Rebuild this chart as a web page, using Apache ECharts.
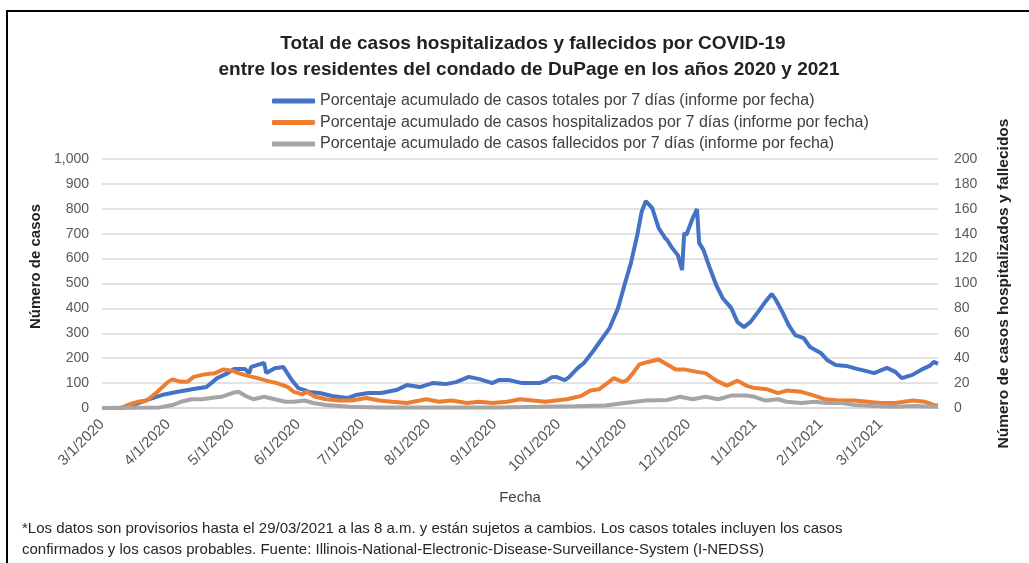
<!DOCTYPE html>
<html>
<head>
<meta charset="utf-8">
<script src="https://cdn.jsdelivr.net/npm/echarts@6/dist/echarts.min.js"></script>
<style>
html,body{margin:0;padding:0;background:#fff;}
#c{width:1029px;height:563px;}
</style>
</head>
<body>
<div id="c"></div>
<script>
// ---- Data ----
const seriesNames = [
  'Porcentaje acumulado de casos totales por 7 días (informe por fecha)',
  'Porcentaje acumulado de casos hospitalizados por 7 días (informe por fecha)',
  'Porcentaje acumulado de casos fallecidos por 7 días (informe por fecha)'
];
const monthTicks = ['2020-03-01','2020-04-01','2020-05-01','2020-06-01','2020-07-01','2020-08-01',
  '2020-09-01','2020-10-01','2020-11-01','2020-12-01','2021-01-01','2021-02-01','2021-03-01'];

const totalDates = ['2020-03-01','2020-03-09','2020-03-14','2020-03-18','2020-03-23','2020-03-29','2020-04-05','2020-04-13','2020-04-19','2020-04-24','2020-04-29','2020-05-02','2020-05-07','2020-05-09','2020-05-10','2020-05-16','2020-05-17','2020-05-21','2020-05-25','2020-05-29','2020-06-01','2020-06-04','2020-06-06','2020-06-11','2020-06-17','2020-06-24','2020-06-28','2020-07-04','2020-07-10','2020-07-17','2020-07-22','2020-07-28','2020-08-03','2020-08-09','2020-08-14','2020-08-20','2020-08-25','2020-08-31','2020-09-03','2020-09-08','2020-09-14','2020-09-19','2020-09-22','2020-09-25','2020-09-28','2020-09-30','2020-10-04','2020-10-06','2020-10-10','2020-10-13','2020-10-17','2020-10-21','2020-10-25','2020-10-29','2020-11-01','2020-11-04','2020-11-07','2020-11-09','2020-11-11','2020-11-14','2020-11-17','2020-11-20','2020-11-21','2020-11-23','2020-11-26','2020-11-28','2020-11-29','2020-11-30','2020-12-03','2020-12-05','2020-12-06','2020-12-08','2020-12-11','2020-12-14','2020-12-17','2020-12-21','2020-12-24','2020-12-27','2020-12-30','2021-01-03','2021-01-06','2021-01-09','2021-01-11','2021-01-14','2021-01-17','2021-01-20','2021-01-24','2021-01-27','2021-02-01','2021-02-04','2021-02-08','2021-02-13','2021-02-18','2021-02-22','2021-02-26','2021-03-04','2021-03-08','2021-03-11','2021-03-16','2021-03-20','2021-03-24','2021-03-26','2021-03-28'];
const totalValues = [0,0,5,20,35,52,64,76,84,120,140,157,157,140,165,181,141,160,165,112,80,72,64,60,48,40,52,60,60,72,92,84,100,96,104,125,116,100,112,112,100,100,100,108,124,125,112,124,160,181,225,273,321,402,494,582,695,787,831,803,723,683,675,647,614,554,703,695,763,799,663,635,562,494,442,402,345,325,345,390,426,458,434,386,333,293,281,245,221,193,173,169,157,149,140,161,145,120,133,153,169,185,177];

const hospDates = ['2020-03-01','2020-03-10','2020-03-13','2020-03-18','2020-03-22','2020-03-27','2020-04-01','2020-04-03','2020-04-07','2020-04-10','2020-04-13','2020-04-18','2020-04-23','2020-04-27','2020-05-01','2020-05-04','2020-05-08','2020-05-13','2020-05-17','2020-05-22','2020-05-27','2020-05-30','2020-06-03','2020-06-05','2020-06-09','2020-06-14','2020-06-20','2020-06-26','2020-07-03','2020-07-09','2020-07-15','2020-07-22','2020-07-31','2020-08-06','2020-08-12','2020-08-19','2020-08-25','2020-08-31','2020-09-07','2020-09-13','2020-09-19','2020-09-25','2020-09-30','2020-10-05','2020-10-10','2020-10-12','2020-10-16','2020-10-20','2020-10-24','2020-10-27','2020-10-31','2020-11-02','2020-11-05','2020-11-08','2020-11-12','2020-11-17','2020-11-20','2020-11-25','2020-11-29','2020-12-05','2020-12-09','2020-12-14','2020-12-19','2020-12-24','2020-12-28','2021-01-01','2021-01-07','2021-01-12','2021-01-16','2021-01-23','2021-01-29','2021-02-03','2021-02-09','2021-02-17','2021-02-23','2021-03-01','2021-03-08','2021-03-16','2021-03-22','2021-03-26','2021-03-28'];
const hospValues = [0,0,2.4,5,6,13,21,23,21,21,25,27,28,31,30,28,26,24,22,20,17,13,11,13,9,7,6,6,8,6,5,4,7,5,6,4,5,4,5,7,6,5,6,7,9,10,14,15,20,24,21,22,28,35,37,39,36,31,31,29,28,22,18,22,18,16,15,12,14,13,10,7,6,6,5,4,4,6,5,2.5,2];

const deathDates = ['2020-03-01','2020-03-28','2020-04-03','2020-04-07','2020-04-12','2020-04-17','2020-04-21','2020-04-26','2020-05-01','2020-05-04','2020-05-07','2020-05-11','2020-05-16','2020-05-21','2020-05-26','2020-05-30','2020-06-04','2020-06-08','2020-06-14','2020-06-25','2020-07-09','2020-07-28','2020-08-15','2020-09-03','2020-09-22','2020-10-09','2020-10-23','2020-11-01','2020-11-11','2020-11-21','2020-11-27','2020-12-03','2020-12-09','2020-12-15','2020-12-21','2020-12-28','2021-01-01','2021-01-06','2021-01-12','2021-01-16','2021-01-23','2021-01-29','2021-02-04','2021-02-11','2021-02-17','2021-02-26','2021-03-08','2021-03-17','2021-03-26','2021-03-28'];
const deathValues = [0,0.5,2.4,5,7,7,8,9,12,13,10,7,9,7,5,5,6,4,2.4,1,0.5,0.5,0.5,0.5,1,1.5,2,4,6,6.4,9,7,9,7,10,10,9,6,7,5,4,5,4,4,2.4,1.6,1,1.6,1,1];

// ---- Chart ----
const FONT = "'Liberation Sans', Arial, sans-serif";
const toTs = s => { const p = s.split('-').map(Number); return new Date(p[0], p[1]-1, p[2]).getTime(); };
const pairs = (d, v) => d.map((s, i) => [toTs(s), v[i]]);
const fmtDate = v => { const d = new Date(v); return (d.getMonth()+1) + '/' + d.getDate() + '/' + d.getFullYear(); };

const chart = echarts.init(document.getElementById('c'), null, {renderer: 'canvas'});
chart.setOption({
  backgroundColor: '#fff',
  animation: false,
  textStyle: {fontFamily: FONT},
  title: [
    {text: 'Total de casos hospitalizados y fallecidos por COVID-19', left: 528, top: 29, textAlign: 'center',
     textStyle: {fontFamily: FONT, fontSize: 19, fontWeight: 'bold', color: '#222'}},
    {text: 'entre los residentes del condado de DuPage en los años 2020 y 2021', left: 524, top: 55, textAlign: 'center',
     textStyle: {fontFamily: FONT, fontSize: 19, fontWeight: 'bold', color: '#222'}}
  ],
  legend: {
    orient: 'vertical', left: 272, top: 93, padding: 0, itemWidth: 43, itemHeight: 5, itemGap: 5.5, icon: 'roundRect',
    textStyle: {fontFamily: FONT, fontSize: 16, color: '#404040'},
    data: seriesNames
  },
  grid: {left: 102, right: 91, top: 159, bottom: 155, containLabel: false},
  xAxis: {
    type: 'value', min: toTs('2020-03-01'), max: toTs('2021-03-28'),
    name: 'Fecha', nameLocation: 'middle', nameGap: 82,
    nameTextStyle: {fontFamily: FONT, fontSize: 15, color: '#404040'},
    axisLine: {show: true, lineStyle: {color: '#d9d9d9', width: 1.5}},
    axisTick: {show: false},
    splitLine: {show: false},
    axisLabel: {
      customValues: monthTicks.map(toTs), rotate: 45, margin: 14,
      fontFamily: FONT, fontSize: 15, color: '#595959',
      formatter: fmtDate, hideOverlap: false, showMinLabel: true, showMaxLabel: true
    }
  },
  yAxis: [
    {type: 'value', min: 0, max: 1000, interval: 100, position: 'left',
     name: 'Número de casos', nameLocation: 'middle', nameGap: 44, nameRotate: 90,
     nameTextStyle: {fontFamily: FONT, fontSize: 15, fontWeight: 'bold', color: '#222', padding: [0, 0, 0, 34]},
     axisLine: {show: false}, axisTick: {show: false},
     axisLabel: {fontFamily: FONT, fontSize: 14, color: '#595959', margin: 13,
       formatter: v => v.toLocaleString('en-US')},
     splitLine: {lineStyle: {color: '#d9d9d9', width: 1.5}}},
    {type: 'value', min: 0, max: 200, interval: 20, position: 'right',
     name: 'Número de casos hospitalizados y fallecidos', nameLocation: 'middle', nameGap: 58, nameRotate: 90,
     nameTextStyle: {fontFamily: FONT, fontSize: 15.5, fontWeight: 'bold', color: '#222'},
     axisLine: {show: false}, axisTick: {show: false},
     axisLabel: {fontFamily: FONT, fontSize: 14, color: '#595959', margin: 16},
     splitLine: {show: false}}
  ],
  series: [
    {name: seriesNames[0], type: 'line', yAxisIndex: 0, showSymbol: false, symbol: 'none',
     data: pairs(totalDates, totalValues), color: '#4472c4', lineStyle: {width: 4, color: '#4472c4'}},
    {name: seriesNames[1], type: 'line', yAxisIndex: 1, showSymbol: false, symbol: 'none',
     data: pairs(hospDates, hospValues), color: '#ed7d31', lineStyle: {width: 4, color: '#ed7d31'}},
    {name: seriesNames[2], type: 'line', yAxisIndex: 1, showSymbol: false, symbol: 'none',
     data: pairs(deathDates, deathValues), color: '#a5a5a5', lineStyle: {width: 4, color: '#a5a5a5'}}
  ],
  graphic: [
    {type: 'rect', shape: {x: 7, y: 11, width: 1040, height: 570}, silent: true, z: -1,
     style: {fill: null, stroke: '#000', lineWidth: 2}},
    {type: 'text', left: 22, top: 518, silent: true,
     style: {text: '*Los datos son provisorios hasta el 29/03/2021 a las 8 a.m. y están sujetos a cambios. Los casos totales incluyen los casos\nconfirmados y los casos probables. Fuente: Illinois-National-Electronic-Disease-Surveillance-System (I-NEDSS)',
       font: "15px " + FONT, fill: '#262626', lineHeight: 21}}
  ]
});
</script>
</body>
</html>
